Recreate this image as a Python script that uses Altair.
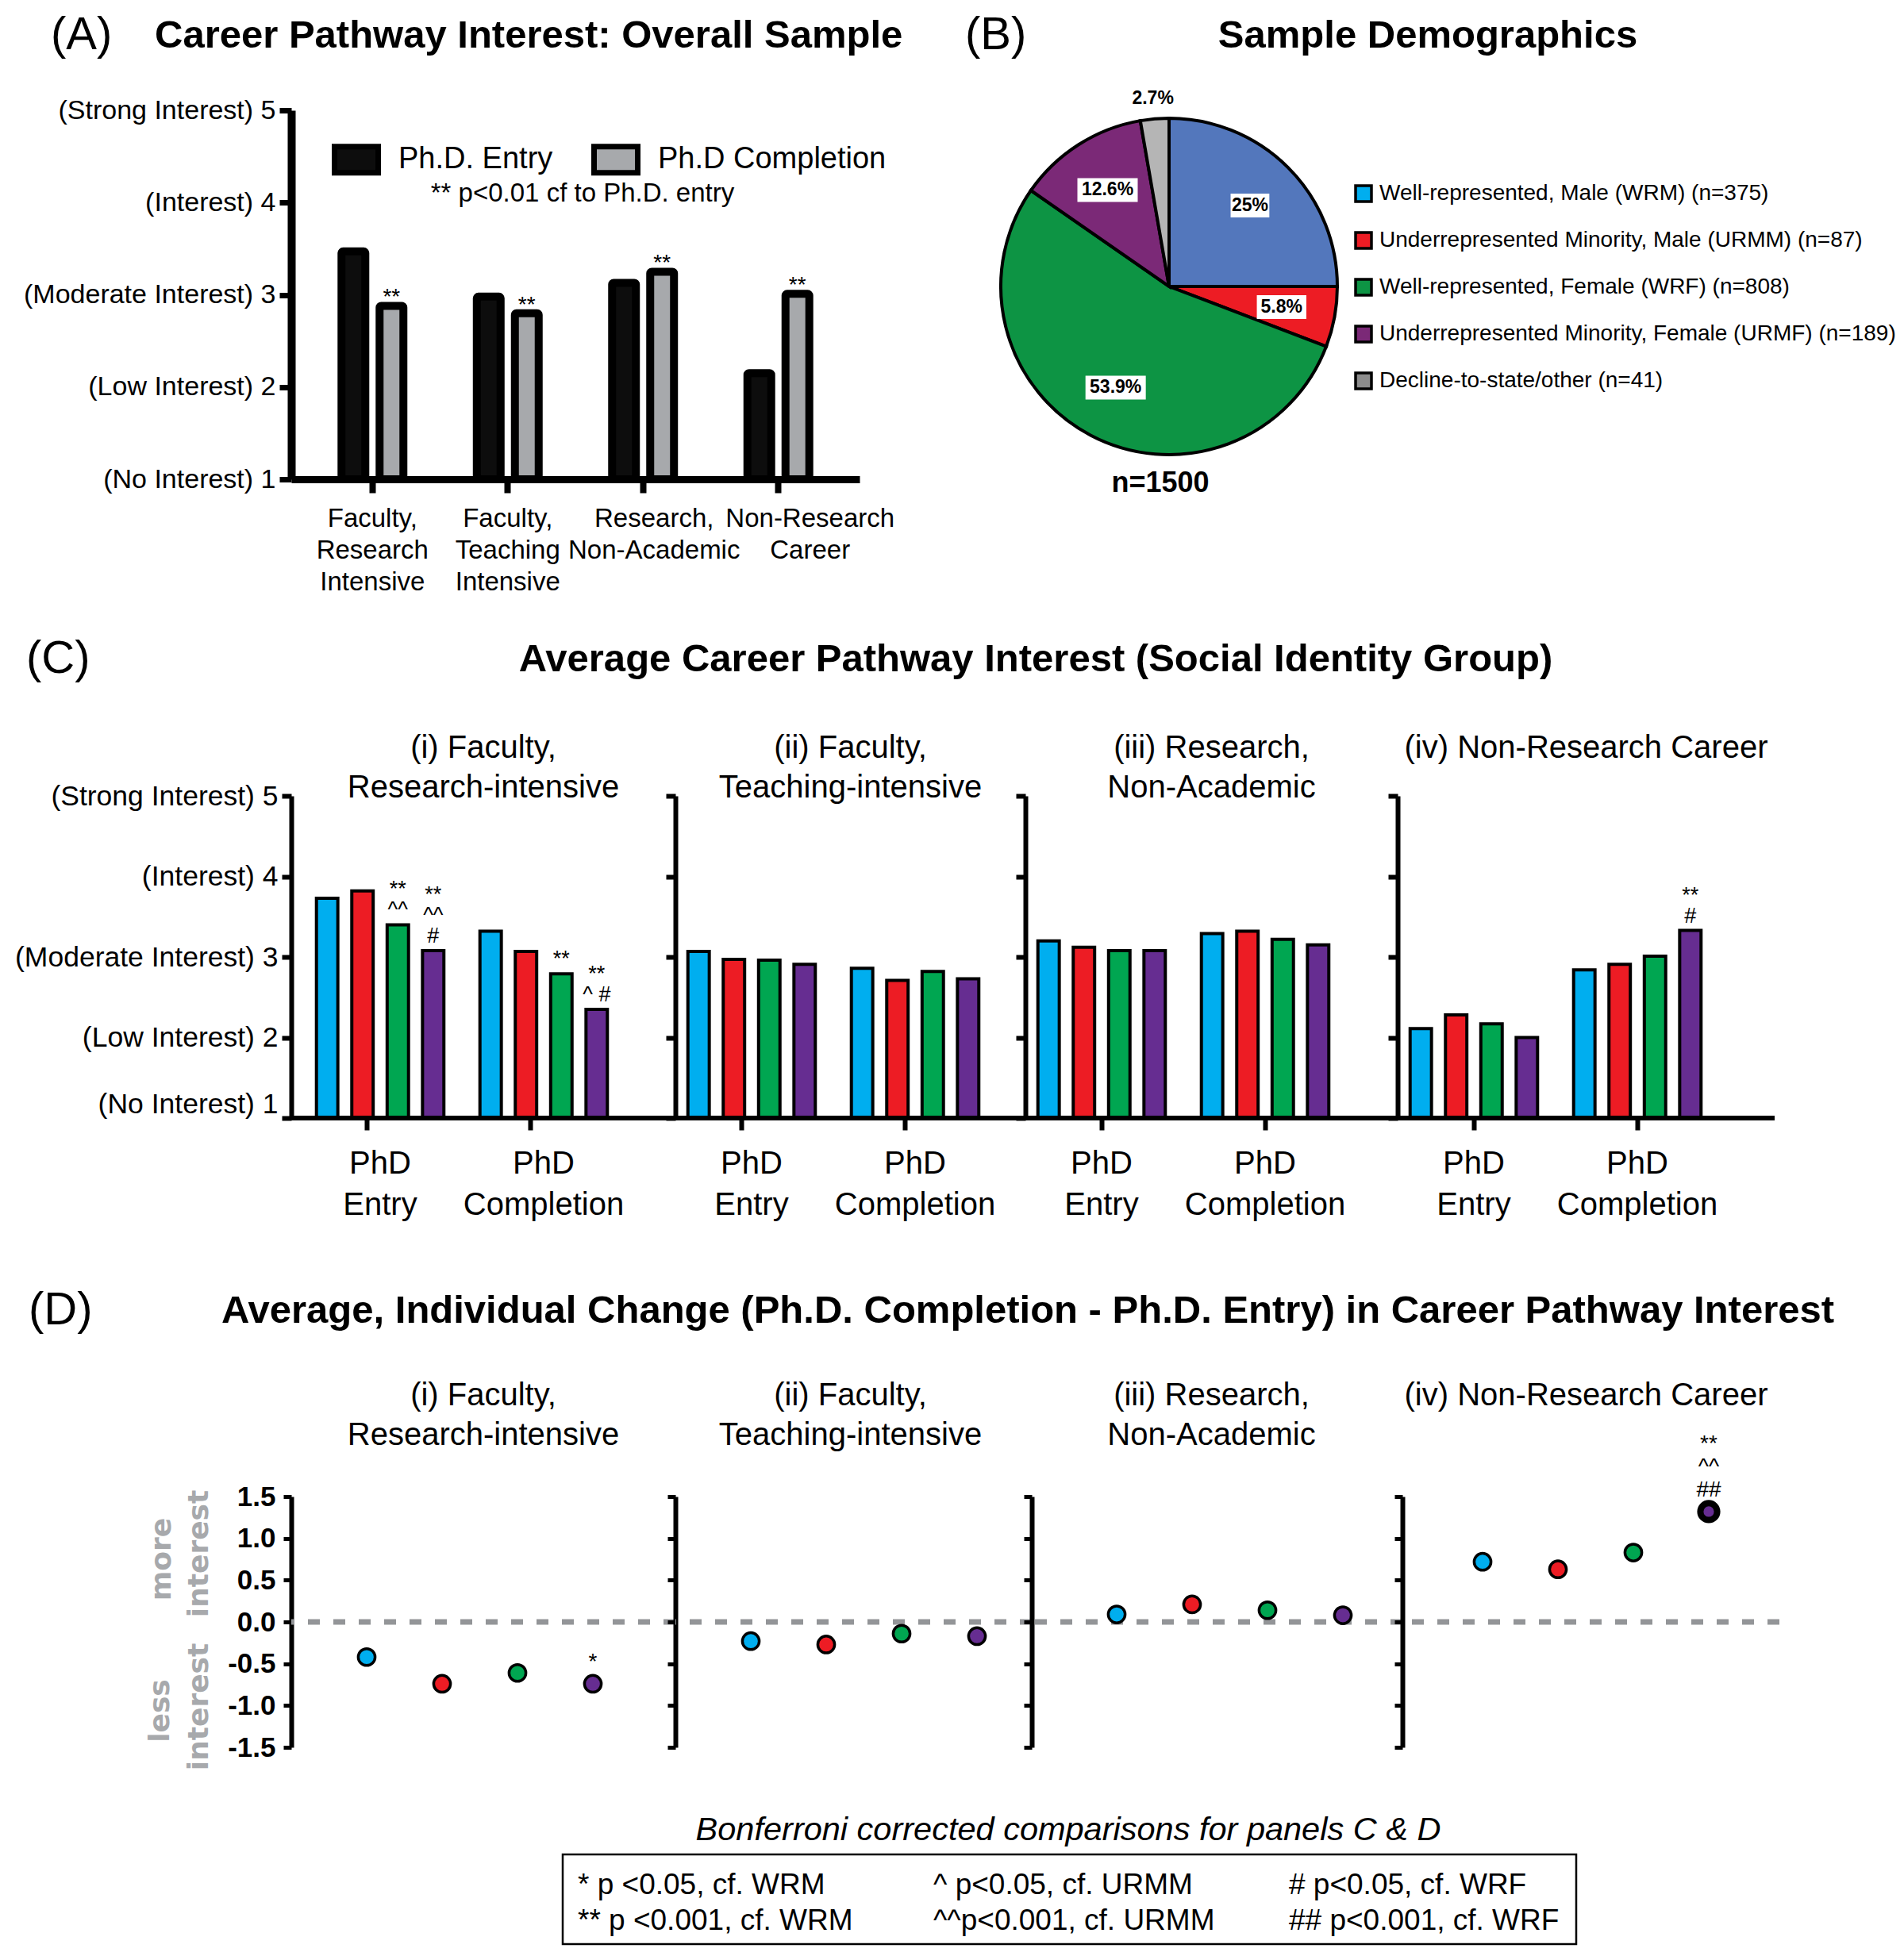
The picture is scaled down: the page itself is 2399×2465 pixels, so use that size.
import altair as alt
import pandas as pd

FONT = "Liberation Sans, Arial, Helvetica, sans-serif"
FONT_HEAVY = "DejaVu Sans, Verdana, sans-serif"

# ---------------- data ----------------
# Panel A
a_careers = ["Faculty,\nResearch\nIntensive", "Faculty,\nTeaching\nIntensive",
             "Research,\nNon-Academic", "Non-Research\nCareer"]
a_times = ["Ph.D. Entry", "Ph.D Completion"]
a_entry = [3.47, 2.98, 3.13, 2.15]
a_completion = [2.88, 2.80, 3.25, 3.01]
a_sig = ["**", "**", "**", "**"]
a_note = "** p<0.01 cf to Ph.D. entry"
a_title = "Career Pathway Interest: Overall Sample"
y_tick_labels = ["(No Interest) 1", "(Low Interest) 2", "(Moderate Interest) 3",
                 "(Interest) 4", "(Strong Interest) 5"]

# Panel B
b_labels = ["Well-represented, Male (WRM) (n=375)",
            "Underrepresented Minority, Male (URMM) (n=87)",
            "Well-represented, Female (WRF) (n=808)",
            "Underrepresented Minority, Female (URMF) (n=189)",
            "Decline-to-state/other (n=41)"]
b_counts = [375, 87, 808, 189, 41]
b_pct = ["25%", "5.8%", "53.9%", "12.6%", "2.7%"]
b_total = "n=1500"
b_title = "Sample Demographics"

# Panels C and D
groups = ["WRM", "URMM", "WRF", "URMF"]
c_times = ["PhD\nEntry", "PhD\nCompletion"]
careers = ["i", "ii", "iii", "iv"]
career_titles = ["(i) Faculty,\nResearch-intensive", "(ii) Faculty,\nTeaching-intensive",
                 "(iii) Research,\nNon-Academic", "(iv) Non-Research Career"]
c_title = "Average Career Pathway Interest (Social Identity Group)"
c_entry = [[3.73, 3.82, 3.40, 3.08],
           [3.07, 2.97, 2.96, 2.91],
           [3.20, 3.12, 3.08, 3.08],
           [2.11, 2.28, 2.17, 2.00]]
c_completion = [[3.32, 3.07, 2.79, 2.35],
                [2.86, 2.71, 2.82, 2.73],
                [3.29, 3.32, 3.22, 3.15],
                [2.84, 2.91, 3.01, 3.33]]
c_sig_career = ["i", "i", "i", "i", "iv"]
c_sig_time = ["PhD\nEntry", "PhD\nEntry", "PhD\nCompletion", "PhD\nCompletion", "PhD\nCompletion"]
c_sig_group = ["WRF", "URMF", "WRF", "URMF", "URMF"]
c_sig_text = ["**\n^^", "**\n^^\n#", "**", "**\n^ #", "**\n#"]

d_title = "Average, Individual Change (Ph.D. Completion - Ph.D. Entry) in Career Pathway Interest"
d_change = [[-0.42, -0.74, -0.61, -0.74],
            [-0.23, -0.27, -0.14, -0.17],
            [0.09, 0.21, 0.14, 0.08],
            [0.72, 0.63, 0.83, 1.32]]
d_sig_career = ["i", "iv"]
d_sig_group = ["URMF", "URMF"]
d_sig_text = ["*", "**\n^^\n##"]

box_title = "Bonferroni corrected comparisons for panels C & D"
box_lines = [["* p <0.05, cf. WRM", "^ p<0.05, cf. URMM", "# p<0.05, cf. WRF"],
             ["** p <0.001, cf. WRM", "^^p<0.001, cf. URMM", "## p<0.001, cf. WRF"]]

# colours
group_colors = ["#00AEEF", "#ED1C24", "#00A651", "#662D91"]
pie_colors = ["#5377BC", "#ED1C24", "#0D9444", "#7B2977", "#B5B5B5"]
legend_colors = ["#00AEEF", "#ED1C24", "#0D9444", "#7B2977", "#8C8C8C"]
time_colors = ["#0D0D0D", "#A7A9AC"]

LEFT = -358  # left edge of the figure relative to the plot areas


def txt(t, x, y, size, weight="normal", align="center", baseline="middle",
        angle=0, color="black", font=FONT, style="normal", line_height=None):
    mk = dict(fontSize=size, fontWeight=weight, align=align, baseline=baseline,
              angle=angle, color=color, font=font, fontStyle=style)
    if line_height:
        mk["lineBreak"] = "\n"
        mk["lineHeight"] = line_height
    return alt.Chart(pd.DataFrame({"t": [t]})).mark_text(**mk).encode(
        x=alt.value(x), y=alt.value(y), text="t:N")


def marker(x, y):
    # invisible point that fixes the outer extent of a row
    return alt.Chart(pd.DataFrame({"m": [0]})).mark_point(opacity=0, size=1).encode(
        x=alt.value(x), y=alt.value(y))


def sig_layers(df, enc, size, line_h, base_dy):
    out = []
    df = df.copy()
    df["nl"] = df["text"].str.count("\n") + 1
    for nl in sorted(df["nl"].unique()):
        sub = df[df["nl"] == nl].drop(columns="nl")
        out.append(alt.Chart(sub).mark_text(
            fontSize=size, lineBreak="\n", lineHeight=line_h, baseline="bottom",
            dy=base_dy - (int(nl) - 1) * line_h).encode(**enc, text="text:N"))
    return out


ylab_expr = "[" + ",".join("'" + s + "'" for s in [""] + y_tick_labels) + "][datum.value]"
split_expr = "split(datum.label, '\\n')"
RES = dict(color="independent", fill="independent", xOffset="independent")

# ---------------- Panel A ----------------
A_W, A_H = 716, 465
dfA = pd.DataFrame({"career": a_careers * 2,
                    "time": [a_times[0]] * 4 + [a_times[1]] * 4,
                    "value": a_entry + a_completion})
dfA_sig = pd.DataFrame({"career": a_careers, "time": [a_times[1]] * 4,
                        "value": a_completion, "sig": a_sig})

xA = alt.X("career:N", title=None,
           scale=alt.Scale(domain=a_careers, paddingInner=0, paddingOuter=0.1),
           axis=alt.Axis(labelAngle=0, labelExpr=split_expr, labelFontSize=33,
                         labelLineHeight=40, labelPadding=16, labelBaseline="top",
                         labelOffset={"expr": "indexof(datum.value, 'Non-Research') >= 0 ? 40 : "
                                              "(indexof(datum.value, 'Non-Academic') >= 0 ? 14 : 0)"},
                         domainWidth=9, tickWidth=8, tickSize=17, labelLimit=2000))
xoA = alt.XOffset("time:N", scale=alt.Scale(domain=a_times, paddingInner=0.375, paddingOuter=0.964))
yA = alt.Y("value:Q", title=None, scale=alt.Scale(domain=[1, 5], nice=False, zero=False),
           axis=alt.Axis(values=[1, 2, 3, 4, 5], labelExpr=ylab_expr, labelFontSize=34,
                         labelPadding=5, tickSize=15, tickWidth=7, domainWidth=10, grid=False,
                         labelLimit=2000))

barsA = alt.Chart(dfA).mark_bar(stroke="black", strokeWidth=10, cornerRadius=2).encode(
    x=xA, xOffset=xoA, y=yA, y2=alt.datum(1),
    fill=alt.Fill("time:N", scale=alt.Scale(domain=a_times, range=time_colors),
                  legend=alt.Legend(title=None, orient="none", legendX=51, legendY=31,
                                    direction="horizontal",
                                    symbolType="M-1,-0.6L1,-0.6L1,0.6L-1,0.6Z",
                                    symbolSize=3025, symbolStrokeColor="black",
                                    symbolStrokeWidth=7, labelFontSize=38, labelOffset=22,
                                    columnPadding=37, labelLimit=2000)))
sigA = alt.Chart(dfA_sig).mark_text(fontSize=28, baseline="alphabetic", dy=-2).encode(
    x=xA, xOffset=xoA, y=yA, text="sig:N")

chartA = alt.layer(
    barsA, sigA,
    txt(a_note, 367, 105, 33),
    txt("(A)", -303, -94, 58, align="left"),
    txt(a_title, -172, -94, 49, weight="bold", align="left"),
    marker(LEFT, 0), marker(0, A_H + 170),
).properties(width=A_W, height=A_H)

# ---------------- Panel B ----------------
B_W, B_H, R = 424, 444, 212
dfB = pd.DataFrame({"label": b_labels, "n": b_counts, "pct": b_pct, "idx": list(range(5))})
theta = alt.Theta("n:Q", stack=True)
order = alt.Order("idx:Q")

legend_arc = alt.Chart(dfB).mark_arc(radius=R).encode(
    theta=theta, order=order,
    fill=alt.Fill("label:N", scale=alt.Scale(domain=b_labels, range=legend_colors),
                  legend=alt.Legend(title=None, orient="none", legendX=443, legendY=91,
                                    symbolType="square", symbolSize=400,
                                    symbolStrokeColor="black", symbolStrokeWidth=3.5,
                                    labelFontSize=28, labelOffset=6, rowPadding=25,
                                    labelLimit=2000)))
pie = alt.Chart(dfB).mark_arc(radius=R, stroke="black", strokeWidth=4).encode(
    theta=theta, order=order,
    color=alt.Color("label:N", scale=alt.Scale(domain=b_labels, range=pie_colors), legend=None))

lab_base = alt.Chart(dfB).transform_joinaggregate(total="sum(n)").transform_window(
    cum="sum(n)", sort=[alt.SortField("idx")], frame=[None, 0]
).transform_calculate(
    mid="(datum.cum - datum.n / 2) / datum.total",
    rr="datum.n / datum.total < 0.04 ? 1.12 : 0.68",
    lx="datum.rr * sin(2 * PI * datum.mid)",
    ly="datum.rr * cos(2 * PI * datum.mid)",
    hw="(length(datum.pct) * 6.8 + 4) / 212",
    x1="datum.lx - datum.hw", x2="datum.lx + datum.hw",
    y1="datum.ly - 15 / 212", y2="datum.ly + 15 / 212",
)
xs = alt.Scale(domain=[-1, 1], nice=False, zero=False)
ys = alt.Scale(domain=[-B_H / 2 / R, B_H / 2 / R], nice=False, zero=False)
boxes = lab_base.transform_filter("datum.rr < 1").mark_rect(color="white").encode(
    x=alt.X("x1:Q", scale=xs, axis=None), x2="x2:Q",
    y=alt.Y("y1:Q", scale=ys, axis=None), y2="y2:Q")
pct_text = lab_base.mark_text(fontSize=23, fontWeight="bold", baseline="middle").encode(
    x=alt.X("lx:Q", scale=xs, axis=None), y=alt.Y("ly:Q", scale=ys, axis=None), text="pct:N")

chartB = alt.layer(
    legend_arc, pie, boxes, pct_text,
    txt(b_total, 201, 470, 36, weight="bold"),
    txt("(B)", -45, -94, 58, align="left"),
    txt(b_title, 538, -94, 49, weight="bold"),
).resolve_scale(fill="independent", color="independent").properties(width=B_W, height=B_H)

# ---------------- Panel C ----------------
C_W = [484, 441, 469, 475]
C_RANGE = [[9, 421], [-7, 405], [-7, 405], [-7, 405]]
C_BANDPOS = [0.42, 0.44, 0.5, 0.5]
C_H = 406
dfC_sig = pd.DataFrame({"career": c_sig_career, "time": c_sig_time,
                        "group": c_sig_group, "text": c_sig_text})


def c_panel(k):
    car = careers[k]
    df = pd.DataFrame({"time": [c_times[0]] * 4 + [c_times[1]] * 4,
                       "group": groups * 2,
                       "value": c_entry[k] + c_completion[k]})
    sig = dfC_sig[dfC_sig.career == car].copy()
    sig["value"] = [(c_entry[k] if t == c_times[0] else c_completion[k])[groups.index(g)]
                    for t, g in zip(sig.time, sig.group)]
    x = alt.X("time:N", title=None,
              scale=alt.Scale(domain=c_times, range=C_RANGE[k], paddingInner=0, paddingOuter=0),
              axis=alt.Axis(domain=False, labelAngle=0, labelExpr=split_expr, labelFontSize=40,
                            labelLineHeight=52, labelPadding=22, labelBaseline="top",
                            bandPosition=C_BANDPOS[k],
                            tickSize=15, tickWidth=6, labelLimit=2000))
    xo = alt.XOffset("group:N", scale=alt.Scale(domain=groups, paddingInner=0.395, paddingOuter=0.51))
    y = alt.Y("value:Q", title=None, scale=alt.Scale(domain=[1, 5], nice=False, zero=False),
              axis=alt.Axis(values=[1, 2, 3, 4, 5], labels=(k == 0), labelExpr=ylab_expr,
                            labelFontSize=35.5,
                            labelBaseline={"expr": "datum.value == 1 ? 'bottom' : 'middle'"},
                            labelPadding=5, tickSize=12, tickWidth=6, domainWidth=6,
                            grid=False, labelLimit=2000))
    color = alt.Color("group:N", scale=alt.Scale(domain=groups, range=group_colors), legend=None)
    layers = [
        alt.Chart(df).mark_bar(stroke="black", strokeWidth=4).encode(
            x=x, xOffset=xo, y=y, y2=alt.datum(1), color=color),
        alt.Chart(pd.DataFrame({"b": [1]})).mark_rule(color="black", strokeWidth=6).encode(
            y=alt.datum(1)),
    ]
    if len(sig):
        layers += sig_layers(sig, dict(x=x, xOffset=xo, y=y), 27, 26, -4)
    layers.append(txt(career_titles[k], C_W[k] / 2, -48, 40, baseline="alphabetic", line_height=50))
    if k == 0:
        layers.append(txt("(C)", -334, -172, 58, align="left"))
        layers.append(txt(c_title, 938, -172, 49, weight="bold"))
        layers += [marker(LEFT, -227), marker(0, C_H + 160)]
    return alt.layer(*layers).properties(width=C_W[k], height=C_H)


c_panels = [c_panel(k) for k in range(4)]

# ---------------- Panel D ----------------
D_W = [484, 449, 467, 475]
D_RANGE = [[95, 380], [95, 380], [107, 392], [101, 386]]
D_H = 316
dfD_sig = pd.DataFrame({"career": d_sig_career, "group": d_sig_group, "text": d_sig_text})
d_label_expr = "datum.value < 0 ? '-' + format(-datum.value, '.1f') : format(datum.value, '.1f')"
c_left = [sum(C_W[:k]) for k in range(4)]
d_left = [sum(D_W[:k]) for k in range(4)]


def d_panel(k):
    car = careers[k]
    df = pd.DataFrame({"career": [car] * 4, "group": groups, "change": d_change[k]})
    sig = dfD_sig[dfD_sig.career == car].copy()
    sig["change"] = [d_change[k][groups.index(g)] for g in sig.group]
    x = alt.X("group:N", scale=alt.Scale(domain=groups, range=D_RANGE[k], padding=0), axis=None)
    y = alt.Y("change:Q", title=None, scale=alt.Scale(domain=[-1.5, 1.5], nice=False, zero=False),
              axis=alt.Axis(values=[-1.5, -1.0, -0.5, 0, 0.5, 1.0, 1.5], labels=(k == 0),
                            labelExpr=d_label_expr, labelFontSize=35, labelFontWeight="bold",
                            labelPadding=10, tickSize=10, tickWidth=5, domainWidth=6, grid=False))
    color = alt.Color("group:N", scale=alt.Scale(domain=groups, range=group_colors), legend=None)
    layers = [
        alt.Chart(pd.DataFrame({"z": [0]})).mark_rule(color="#939598", strokeWidth=7,
                                                      strokeDash=[15, 17]).encode(y=alt.datum(0)),
        alt.Chart(df).mark_circle(size=450, stroke="black", opacity=1).encode(
            x=x, y=y, color=color,
            strokeWidth=alt.condition("datum.career == 'iv' && datum.group == 'URMF'",
                                      alt.value(8), alt.value(3.5))),
    ]
    if len(sig):
        layers += sig_layers(sig, dict(x=x, y=y), 28, 29, -13)
    sub_x = c_left[k] + C_W[k] / 2 - d_left[k]
    layers.append(txt(career_titles[k], sub_x, -115, 40, baseline="alphabetic", line_height=50))
    if k == 0:
        layers.append(txt("(D)", -331, -234, 58, align="left"))
        layers.append(txt(d_title, 928, -234, 49, weight="bold"))
        gray = "#A7A9AC"
        layers.append(txt("more", -163, 79, 36, weight="bold", angle=270, color=gray, font=FONT_HEAVY))
        layers.append(txt("interest", -116, 72, 36, weight="bold", angle=270, color=gray, font=FONT_HEAVY))
        layers.append(txt("less", -165, 270, 36, weight="bold", angle=270, color=gray, font=FONT_HEAVY))
        layers.append(txt("interest", -116, 265, 36, weight="bold", angle=270, color=gray, font=FONT_HEAVY))
        layers += [marker(LEFT, -315), marker(0, D_H + 60)]
    return alt.layer(*layers).properties(width=D_W[k], height=D_H)


d_panels = [d_panel(k) for k in range(4)]

# ---------------- significance key box ----------------
BOX_W, BOX_H = 1277, 113
dfBox = pd.DataFrame({"col": [0, 1, 2, 0, 1, 2], "row": [0, 0, 0, 1, 1, 1],
                      "t": box_lines[0] + box_lines[1]})
box_text = alt.Chart(dfBox).mark_text(align="left", baseline="alphabetic", fontSize=37).encode(
    x=alt.X("col:Q", scale=alt.Scale(domain=[0, 2], range=[19, 915]), axis=None),
    y=alt.Y("row:Q", scale=alt.Scale(domain=[0, 1], range=[50, 95]), axis=None),
    text="t:N")
box_chart = alt.layer(
    box_text,
    txt(box_title, 637, -18, 41.5, style="italic", baseline="alphabetic"),
).properties(width=BOX_W, height=BOX_H, view=alt.ViewBackground(stroke="black", strokeWidth=2.5))
box_spacer = alt.layer(marker(LEFT, -73), marker(0, 0)).properties(width=342, height=1)

# ---------------- layout ----------------
row0 = alt.hconcat(chartA, chartB, spacing=178, bounds="flush").resolve_scale(**RES)
row1 = alt.hconcat(*c_panels, spacing=0, bounds="flush").resolve_scale(**RES)
row2 = alt.hconcat(*d_panels, spacing=0, bounds="flush").resolve_scale(**RES)
row3 = alt.hconcat(box_spacer, box_chart, spacing=0, bounds="flush").resolve_scale(**RES)

chart = alt.vconcat(row0, row1, row2, row3, spacing=0).resolve_scale(**RES).properties(
    padding={"top": 8, "left": 0, "right": 0, "bottom": 0}
).configure(font=FONT).configure_view(stroke=None).configure_axis(
    labelColor="black", domainColor="black", tickColor="black", labelFont=FONT
).configure_legend(labelFont=FONT, labelColor="black").configure_text(font=FONT, color="black")

chart.save("out.html", embed_options={"renderer": "svg", "actions": False})
